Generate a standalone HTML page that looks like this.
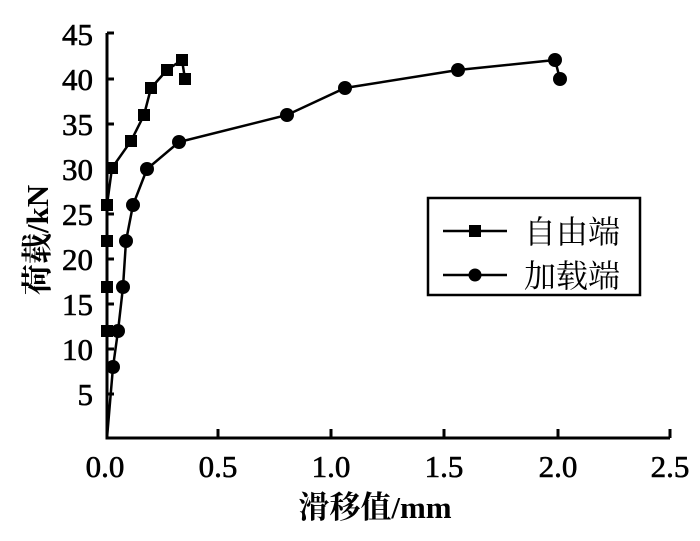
<!DOCTYPE html><html><head><style>body{margin:0;background:#fff}</style></head><body>
<svg width="700" height="536" xmlns="http://www.w3.org/2000/svg" font-family="Liberation Serif, Noto Serif CJK SC, serif">
<g stroke="#000" stroke-width="3" fill="none">
<polyline points="107,33 107,438 670,438"/>
<path d="M107,33h7M107,79h7M107,124h7M107,169h7M107,214h7M107,259h7M107,304h7M107,349h7M107,394h7"/>
<path d="M218,438v-9M331,438v-9M444,438v-9M558,438v-9M670,438v-9"/>
</g>
<g font-size="31" stroke="#000" stroke-width="0.6" text-anchor="end">
<text x="93" y="45">45</text><text x="93" y="90">40</text><text x="93" y="135">35</text><text x="93" y="180">30</text><text x="93" y="225">25</text><text x="93" y="270">20</text><text x="93" y="315">15</text><text x="93" y="360">10</text><text x="93" y="405">5</text>
</g>
<g font-size="31" stroke="#000" stroke-width="0.6" text-anchor="middle">
<text x="105" y="477">0.0</text><text x="218" y="477">0.5</text><text x="331" y="477">1.0</text><text x="444" y="477">1.5</text><text x="558" y="477">2.0</text><text x="670" y="477">2.5</text>
</g>
<text x="375" y="518" font-size="31" font-weight="bold" text-anchor="middle">滑移值/mm</text>
<text transform="translate(48,240) rotate(-90)" font-size="31" font-weight="bold" text-anchor="middle">荷载/kN</text>
<g stroke="#000" stroke-width="2.5" fill="none">
<polyline points="107,438 107,331 107,287 107,241 107,205 112,168 131,141 144,115 151,88 167,70 182,60 185,79"/>
<polyline points="107,438 113,367 118,331 123,287 126,241 133,205 147,169 179,142 287,115 345,88 458,70 555,60 560,79"/>
</g>
<g fill="#000">
<rect x="101" y="199" width="12" height="12"/><rect x="101" y="235" width="12" height="12"/><rect x="101" y="281" width="12" height="12"/><rect x="101" y="325" width="12" height="12"/>
<rect x="106" y="162" width="12" height="12"/><rect x="125" y="135" width="12" height="12"/><rect x="138" y="109" width="12" height="12"/><rect x="145" y="82" width="12" height="12"/><rect x="161" y="64" width="12" height="12"/><rect x="176" y="54" width="12" height="12"/><rect x="179" y="73" width="12" height="12"/>
<circle cx="113" cy="367" r="7"/><circle cx="118" cy="331" r="7"/><circle cx="123" cy="287" r="7"/><circle cx="126" cy="241" r="7"/><circle cx="133" cy="205" r="7"/><circle cx="147" cy="169" r="7"/><circle cx="179" cy="142" r="7"/><circle cx="287" cy="115" r="7"/><circle cx="345" cy="88" r="7"/><circle cx="458" cy="70" r="7"/><circle cx="555" cy="60" r="7"/><circle cx="560" cy="79" r="7"/>
</g>
<rect x="428" y="198" width="212" height="97" fill="none" stroke="#000" stroke-width="2.5"/>
<path d="M443,231h64M443,275h64" stroke="#000" stroke-width="2.5"/>
<rect x="469" y="225" width="12" height="12"/><circle cx="475" cy="275" r="6.5"/>
<g font-size="32" font-family="Noto Serif CJK SC, serif"><text x="524" y="243">自由端</text><text x="524" y="287">加载端</text></g>
</svg></body></html>
